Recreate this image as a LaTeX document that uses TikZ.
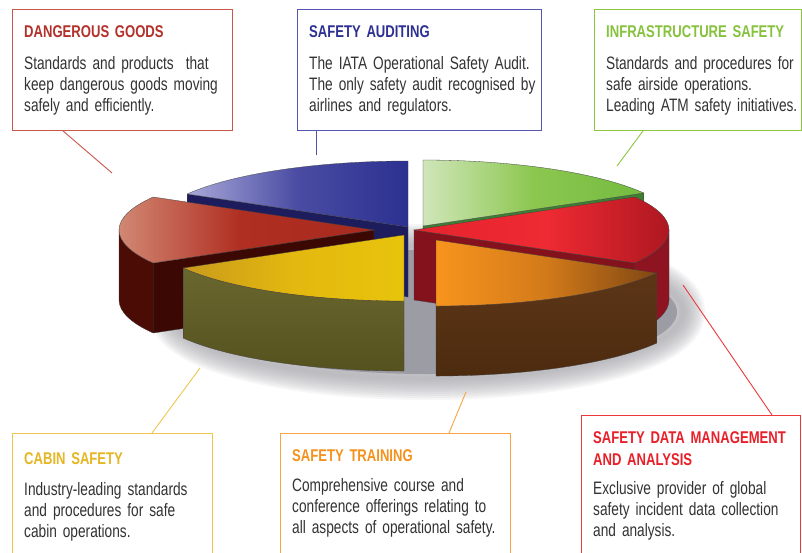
\documentclass[tikz,border=0pt]{standalone}
\usepackage{fontspec}
\setmainfont{Liberation Sans}
\newfontfamily\bodyfont[FakeStretch=0.76]{Liberation Sans}
\newfontfamily\titlefont[FakeStretch=0.77]{Liberation Sans}
\definecolor{dgline}{HTML}{C8574A}
\definecolor{dgtext}{HTML}{B3312B}
\definecolor{saline}{HTML}{5555B0}
\definecolor{satext}{HTML}{2E3192}
\definecolor{isline}{HTML}{8DC63F}
\definecolor{istext}{HTML}{86C23C}
\definecolor{csline}{HTML}{F0C650}
\definecolor{cstext}{HTML}{E6B624}
\definecolor{stline}{HTML}{F6A445}
\definecolor{sttext}{HTML}{F5921E}
\definecolor{sdline}{HTML}{EC3A3A}
\definecolor{sdtext}{HTML}{E8202A}
\definecolor{txtgray}{HTML}{333333}
\definecolor{shadowgray}{HTML}{9C9CA4}
% slice colours
\definecolor{blueside}{HTML}{1D1D5E}
\definecolor{bluelt}{HTML}{A9A9D9}
\definecolor{bluemd}{HTML}{4A4CA3}
\definecolor{bluedk}{HTML}{2C3090}
\definecolor{greenside}{HTML}{3C7F33}
\definecolor{greenlt}{HTML}{D0E6BA}
\definecolor{greenmd}{HTML}{8CC750}
\definecolor{greendk}{HTML}{74BB40}
\definecolor{drside}{HTML}{4B0C05}
\definecolor{drface}{HTML}{3C0804}
\definecolor{drlt}{HTML}{D4907A}
\definecolor{drmd}{HTML}{B02E22}
\definecolor{drdk}{HTML}{A82A1E}
\definecolor{redside}{HTML}{8D1420}
\definecolor{redface}{HTML}{84121D}
\definecolor{redlt}{HTML}{E6242D}
\definecolor{redmd}{HTML}{EE2A33}
\definecolor{reddk}{HTML}{A8161F}
\definecolor{olivelt}{HTML}{6F6D35}
\definecolor{olivedk}{HTML}{56521F}
\definecolor{yellt}{HTML}{C99A1C}
\definecolor{yelmd}{HTML}{E3B80F}
\definecolor{yeldk}{HTML}{E8C40C}
\definecolor{brownlt}{HTML}{62391A}
\definecolor{browndk}{HTML}{4D2B0F}
\definecolor{orglt}{HTML}{F7941D}
\definecolor{orgmd}{HTML}{D27A1A}
\definecolor{orgdk}{HTML}{7F4713}
\begin{document}
\begin{tikzpicture}[x=1pt,y=1pt,
  rim/.style={draw=black!75,line width=0.3pt},
  box/.style={draw=#1,line width=0.9pt,inner sep=0pt,anchor=north west},
  ttl/.style={text=#1,font=\titlefont\bfseries\fontsize{17}{22}\selectfont,inner sep=0pt,anchor=base west,align=left,text width=250pt},
  txt/.style={text=txtgray,font=\bodyfont\fontsize{18}{21}\selectfont,inner sep=0pt,anchor=base west,align=left,text width=250pt},
  lnk/.style={draw=#1,line width=0.9pt}]
\useasboundingbox (0,0) rectangle (802,-552);
\fill[white] (0,0) rectangle (802,-552);
% soft shadow under the pie
\foreach \w in {44,40,...,4}
  \draw[shadowgray,opacity=0.09,line width=\w pt] (427,-312) ellipse (256 and 66);
\fill[shadowgray] (427,-312) ellipse (250 and 62);
% tips of the six slices
\coordinate (bt) at (408,-227);
\coordinate (gt) at (423,-226);
\coordinate (dt) at (374,-230);
\coordinate (rt) at (414,-230);
\coordinate (yt) at (404,-235);
\coordinate (ot) at (436,-240);
% blue slice
\filldraw[rim,fill=blueside] (bt) -- ++(150:255 and 66) -- ++(0,-70) -- ([yshift=-70pt]bt) -- cycle;
\shadedraw[rim,left color=bluelt,right color=bluedk,middle color=bluemd] (bt) -- ++(90:255 and 66) arc[start angle=90,end angle=150,x radius=255,y radius=66] -- cycle;
% green slice
\filldraw[rim,fill=greenside] (gt) -- ++(30:255 and 66) -- ++(0,-70) -- ([yshift=-70pt]gt) -- cycle;
\shadedraw[rim,left color=greenlt,right color=greendk,middle color=greenmd] (gt) -- ++(30:255 and 66) arc[start angle=30,end angle=90,x radius=255,y radius=66] -- cycle;
% dark red slice
\filldraw[rim,fill=drside] (dt) ++(180:255 and 66) arc[start angle=180,end angle=210,x radius=255,y radius=66] -- ++(0,-70) arc[start angle=210,end angle=180,x radius=255,y radius=66] -- cycle;
\filldraw[rim,fill=drface] (dt) -- ++(210:255 and 66) -- ++(0,-70) -- ([yshift=-70pt]dt) -- cycle;
\shadedraw[rim,left color=drlt,right color=drdk,middle color=drmd] (dt) -- ++(150:255 and 66) arc[start angle=150,end angle=210,x radius=255,y radius=66] -- cycle;
% red slice
\filldraw[rim,fill=redside] (rt) ++(-30:255 and 66) arc[start angle=-30,end angle=0,x radius=255,y radius=66] -- ++(0,-70) arc[start angle=0,end angle=-30,x radius=255,y radius=66] -- cycle;
\filldraw[rim,fill=redface] (rt) -- ++(-30:255 and 66) -- ++(0,-70) -- ([yshift=-70pt]rt) -- cycle;
\shadedraw[rim,left color=redlt,right color=reddk,middle color=redmd] (rt) -- ++(-30:255 and 66) arc[start angle=-30,end angle=30,x radius=255,y radius=66] -- cycle;
% yellow slice
\shadedraw[rim,top color=olivelt,bottom color=olivedk] (yt) ++(210:255 and 66) arc[start angle=210,end angle=270,x radius=255,y radius=66] -- ++(0,-70) arc[start angle=270,end angle=210,x radius=255,y radius=66] -- cycle;
\shadedraw[rim,left color=yellt,right color=yeldk,middle color=yelmd] (yt) -- ++(210:255 and 66) arc[start angle=210,end angle=270,x radius=255,y radius=66] -- cycle;
% orange slice
\shadedraw[rim,top color=brownlt,bottom color=browndk] (ot) ++(270:255 and 66) arc[start angle=270,end angle=330,x radius=255,y radius=66] -- ++(0,-70) arc[start angle=330,end angle=270,x radius=255,y radius=66] -- cycle;
\shadedraw[rim,left color=orglt,right color=orgdk,middle color=orgmd] (ot) -- ++(270:255 and 66) arc[start angle=270,end angle=330,x radius=255,y radius=66] -- cycle;
% boxes
\node[box=dgline,minimum width=220pt,minimum height=121pt] (dg) at (12,-9) {};
\node[box=saline,minimum width=244pt,minimum height=121pt] (sa) at (297,-9) {};
\node[box=isline,minimum width=207pt,minimum height=121pt] (is) at (594,-9) {};
\node[box=csline,minimum width=200pt,minimum height=130pt] (cs) at (12,-433) {};
\node[box=stline,minimum width=230pt,minimum height=130pt] (st) at (280,-433) {};
\node[box=sdline,minimum width=219pt,minimum height=148pt] (sd) at (581,-415) {};
% titles and texts
\node[ttl=dgtext] (dgt) at (24,-37) {DANGEROUS GOODS};
\node[txt] (dgb) at (24,-69) {Standards and products~ that\\keep dangerous goods moving\\safely and efficiently.};
\node[ttl=satext] (sat) at (309,-37) {SAFETY AUDITING};
\node[txt] (sab) at (309,-69) {The IATA Operational Safety Audit.\\The only safety audit recognised by\\airlines and regulators.};
\node[ttl=istext] (ist) at (606,-37) {INFRASTRUCTURE SAFETY};
\node[txt] (isb) at (606,-69) {Standards and procedures for\\safe airside operations.\\Leading ATM safety initiatives.};
\node[ttl=cstext] (cst) at (24,-464) {CABIN SAFETY};
\node[txt] (csb) at (24,-495) {Industry-leading standards\\and procedures for safe\\cabin operations.};
\node[ttl=sttext] (stt) at (292,-461) {SAFETY TRAINING};
\node[txt] (stb) at (292,-491) {Comprehensive course and\\conference offerings relating to\\all aspects of operational safety.};
\node[ttl=sdtext] (sdt) at (593,-443) {SAFETY DATA MANAGEMENT\\AND ANALYSIS};
\node[txt] (sdb) at (593,-494) {Exclusive provider of global\\safety incident data collection\\and analysis.};
% connectors
\coordinate (dgend) at (112,-173);
\coordinate (saend) at (316,-155);
\coordinate (isend) at (617,-166);
\coordinate (csend) at (200,-368);
\coordinate (stend) at (466,-392);
\coordinate (sdend) at (683,-285);
\draw[lnk=dgline] ([xshift=51pt]dg.south west) -- (dgend);
\draw[lnk=saline] ([xshift=19pt]sa.south west) -- (saend);
\draw[lnk=isline] ([xshift=49pt]is.south west) -- (isend);
\draw[lnk=csline] ([xshift=140pt]cs.north west) -- (csend);
\draw[lnk=stline] ([xshift=169pt]st.north west) -- (stend);
\draw[lnk=sdline] ([xshift=191pt]sd.north west) -- (sdend);
\end{tikzpicture}
\end{document}
